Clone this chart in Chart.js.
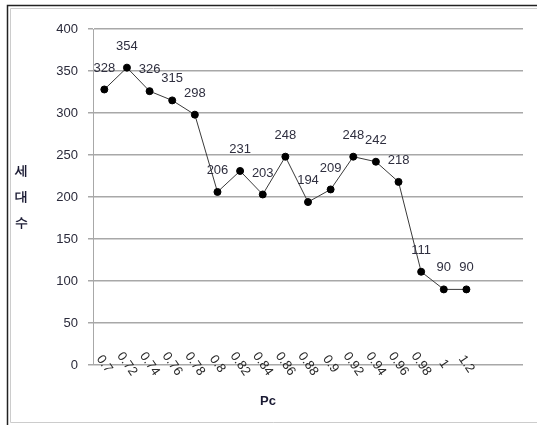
<!DOCTYPE html>
<html lang="ko">
<head>
    <meta charset="UTF-8">
    <title>Pc 세대수</title>
    <script src="https://cdn.jsdelivr.net/npm/chart.js"></script>
    <style>
        body {
            margin: 0;
            background: #fff;
        }
        canvas {
            display: block;
        }
    </style>
</head>
<body>
    <canvas id="pcChart" width="537" height="425"></canvas>

    <script>
        // Pc values (the two empty slots at the end are part of the axis)
        const pcLabels = ['0.7', '0.72', '0.74', '0.76', '0.78', '0.8', '0.82', '0.84', '0.86',
                          '0.88', '0.9', '0.92', '0.94', '0.96', '0.98', '1', '1.2', '', ''];
        const generations = [328, 354, 326, 315, 298, 206, 231, 203, 248,
                             194, 209, 248, 242, 218, 111, 90, 90, null, null];
        const yTicks = [0, 50, 100, 150, 200, 250, 300, 350, 400];

        const FONT = 'Liberation Sans, Arial, sans-serif';

        // Draws the rotated x labels, point values, axis titles and the frame
        const decorations = {
            id: 'decorations',
            afterDraw(chart) {
                const ctx = chart.ctx;
                const x = chart.scales.x;
                const area = chart.chartArea;
                ctx.save();

                // x tick labels, turned clockwise
                ctx.fillStyle = '#2a2a2a';
                ctx.font = '13px ' + FONT;
                ctx.textAlign = 'center';
                ctx.textBaseline = 'middle';
                pcLabels.forEach((lab, i) => {
                    if (!lab) return;
                    ctx.save();
                    ctx.translate(x.getPixelForValue(i), area.bottom - 1);
                    ctx.rotate(55 * Math.PI / 180);
                    ctx.fillText(lab, 0, 0);
                    ctx.restore();
                });

                // values above the points
                ctx.fillStyle = '#2f2f3f';
                ctx.font = '13px ' + FONT;
                ctx.textBaseline = 'bottom';
                chart.getDatasetMeta(0).data.forEach((pt, i) => {
                    if (generations[i] == null) return;
                    ctx.fillText(String(generations[i]), pt.x, pt.y - 15);
                });

                // axis titles
                ctx.fillStyle = '#1a1a33';
                ctx.font = 'bold 13px ' + FONT;
                ctx.textBaseline = 'middle';
                ['세', '대', '수'].forEach((ch, i) => ctx.fillText(ch, 21, 171 + i * 26));
                ctx.fillText('Pc', (area.left + area.right) / 2 - 40, 401);

                // outer frame
                ctx.strokeStyle = '#222';
                ctx.lineWidth = 1.5;
                ctx.beginPath();
                ctx.moveTo(7.5, 425);
                ctx.lineTo(7.5, 5.5);
                ctx.lineTo(537, 5.5);
                ctx.stroke();
                ctx.strokeStyle = '#ccc';
                ctx.lineWidth = 1;
                ctx.beginPath();
                ctx.moveTo(10.5, 422.5);
                ctx.lineTo(10.5, 8.5);
                ctx.lineTo(537, 8.5);
                ctx.moveTo(10.5, 422.5);
                ctx.lineTo(537, 422.5);
                ctx.stroke();
                ctx.restore();
            }
        };

        new Chart(document.getElementById('pcChart'), {
            type: 'line',
            data: {
                labels: pcLabels,
                datasets: [{
                    data: generations,
                    borderColor: '#3a3a3a',
                    borderWidth: 1,
                    pointBackgroundColor: '#000',
                    pointBorderColor: '#000',
                    pointRadius: 3.5,
                    tension: 0,
                    spanGaps: false
                }]
            },
            options: {
                responsive: false,
                animation: false,
                layout: {
                    padding: { top: 29, right: 14, bottom: 0, left: 0 }
                },
                plugins: {
                    legend: { display: false },
                    tooltip: { enabled: false }
                },
                scales: {
                    x: {
                        offset: true,
                        grid: { display: false },
                        border: { display: false },
                        ticks: { display: false },
                        afterFit(scale) { scale.height = 60; }
                    },
                    y: {
                        min: 0,
                        max: 400,
                        afterBuildTicks(scale) {
                            scale.ticks = yTicks.map(v => ({ value: v }));
                        },
                        afterFit(scale) { scale.width = 93; },
                        grid: {
                            color: '#a8a8a8',
                            lineWidth: 1.5,
                            tickLength: 5
                        },
                        border: { color: '#a8a8a8', width: 1 },
                        ticks: {
                            padding: 10,
                            color: '#2a2a3a',
                            font: { family: FONT, size: 13 }
                        }
                    }
                }
            },
            plugins: [decorations]
        });
    </script>
</body>
</html>
